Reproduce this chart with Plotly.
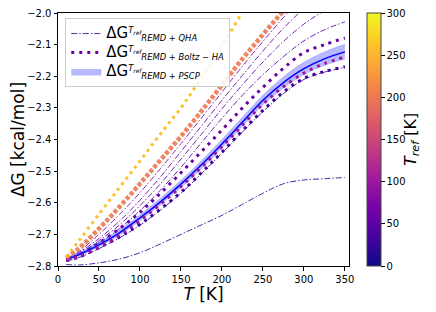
import plotly.graph_objects as go
from plotly.colors import sample_colorscale

# ---------------- data ----------------
T = [10, 25, 50, 75, 100, 125, 150, 175, 200, 225, 250, 275, 300, 325, 350]

# REMD + QHA (dash-dot), keyed by T_ref
qha_tref = [20, 30, 40, 50, 60, 75]
qha_20 = [-2.795, -2.797, -2.790, -2.778, -2.758, -2.730, -2.700, -2.670, -2.640, -2.605, -2.570, -2.540, -2.528, -2.524, -2.520]
qha_30 = [-2.784, -2.774, -2.745, -2.711, -2.671, -2.623, -2.570, -2.508, -2.443, -2.376, -2.312, -2.255, -2.210, -2.187, -2.172]
qha_40 = [-2.781, -2.765, -2.727, -2.682, -2.625, -2.560, -2.488, -2.410, -2.333, -2.260, -2.195, -2.138, -2.088, -2.053, -2.028]
qha_50 = [-2.780, -2.762, -2.720, -2.670, -2.609, -2.540, -2.462, -2.383, -2.303, -2.227, -2.155, -2.090, -2.035, -1.992, -1.950]
qha_60 = [-2.779, -2.758, -2.713, -2.658, -2.592, -2.518, -2.438, -2.357, -2.276, -2.197, -2.120, -2.048, -1.985, -1.925, -1.870]
qha_75 = [-2.778, -2.755, -2.700, -2.637, -2.568, -2.492, -2.413, -2.332, -2.250, -2.168, -2.090, -2.014, -1.940, -1.870, -1.800]
qha_vals = [qha_20, qha_30, qha_40, qha_50, qha_60, qha_75]

# REMD + Boltz-HA (dotted), keyed by T_ref
boltz_tref = [30, 60, 100, 200, 260]
boltz_30 = [-2.783, -2.772, -2.742, -2.708, -2.668, -2.620, -2.567, -2.505, -2.440, -2.372, -2.308, -2.250, -2.207, -2.185, -2.170]
boltz_60 = [-2.781, -2.766, -2.727, -2.682, -2.630, -2.570, -2.505, -2.438, -2.370, -2.300, -2.235, -2.175, -2.125, -2.100, -2.079]
boltz_100 = [-2.782, -2.770, -2.740, -2.703, -2.656, -2.605, -2.549, -2.488, -2.423, -2.355, -2.288, -2.233, -2.190, -2.160, -2.139]
boltz_200 = [-2.774, -2.745, -2.682, -2.613, -2.540, -2.465, -2.390, -2.310, -2.228, -2.145, -2.068, -1.993, -1.920, -1.850, -1.780]
boltz_260 = [-2.772, -2.722, -2.636, -2.552, -2.468, -2.382, -2.300, -2.205, -2.105, -1.996, -1.880, -1.770, -1.660, -1.550, -1.440]
boltz_vals = [boltz_30, boltz_60, boltz_100, boltz_200, boltz_260]

# REMD + PSCP (mean and half-width of band)
pscp_mean = [-2.779, -2.765, -2.733, -2.695, -2.648, -2.597, -2.541, -2.480, -2.414, -2.345, -2.276, -2.220, -2.176, -2.145, -2.123]
pscp_err = [0.006, 0.007, 0.008, 0.009, 0.010, 0.011, 0.012, 0.013, 0.014, 0.015, 0.016, 0.018, 0.020, 0.022, 0.024]

x_ticks = [0, 50, 100, 150, 200, 250, 300, 350]
y_ticks = [-2.8, -2.7, -2.6, -2.5, -2.4, -2.3, -2.2, -2.1, -2.0]
cbar_ticks = [0, 50, 100, 150, 200, 250, 300]
TMAX = 300

# ---------------- figure ----------------
def cmap(t):
    return sample_colorscale("Plasma", [t / TMAX])[0]

FONT = "DejaVu Sans"
DG = '<span style="font-size:15px">ΔG</span>'
lab_qha = DG + "<sup><i>T<sub>ref</sub></i></sup><sub><i>REMD + QHA</i></sub>"
lab_boltz = DG + "<sup><i>T<sub>ref</sub></i></sup><sub><i>REMD + Boltz − HA</i></sub>"
lab_pscp = DG + "<sup><i>T<sub>ref</sub></i></sup><sub><i>REMD + PSCP</i></sub>"

fig = go.Figure()

# QHA lines
for i, (tr, vals) in enumerate(zip(qha_tref, qha_vals)):
    fig.add_trace(go.Scatter(
        x=T, y=vals, mode="lines", line_shape="spline",
        line=dict(color=cmap(tr), width=1, dash="6px,2px,1.5px,2px"),
        opacity=0.85,
        name=lab_qha, showlegend=(i == 0), legendrank=1,
    ))

# Boltz-HA dotted (low T_ref ones below band)
for tr, vals in zip(boltz_tref[:2], boltz_vals[:2]):
    fig.add_trace(go.Scatter(
        x=T, y=vals, mode="lines", line_shape="spline",
        line=dict(color=cmap(tr), width=3, dash="3px,5px"),
        name=lab_boltz, showlegend=(tr == 60), legendrank=2,
    ))

# PSCP band
lower = [m - e for m, e in zip(pscp_mean, pscp_err)]
upper = [m + e for m, e in zip(pscp_mean, pscp_err)]
fig.add_trace(go.Scatter(x=T, y=lower, mode="lines", line_shape="spline",
                         line=dict(width=0, color="rgba(0,0,255,0)"), showlegend=False))
fig.add_trace(go.Scatter(x=T, y=upper, mode="lines", line_shape="spline", fill="tonexty",
                         fillcolor="rgba(70,70,255,0.38)",
                         line=dict(width=0.5, color="rgba(70,70,255,0.5)"),
                         name=lab_pscp, showlegend=True, legendrank=3))
fig.add_trace(go.Scatter(x=T, y=pscp_mean, mode="lines", line_shape="spline",
                         line=dict(color="blue", width=1.5), showlegend=False))

# Boltz-HA dotted (higher T_ref)
widths = {100: 3, 200: 4.5, 260: 3}
dashes = {100: "3px,5px", 200: "4px,2px", 260: "3px,4px"}
for tr, vals in zip(boltz_tref[2:], boltz_vals[2:]):
    fig.add_trace(go.Scatter(
        x=T, y=vals, mode="lines", line_shape="spline",
        line=dict(color=cmap(tr), width=widths[tr], dash=dashes[tr]),
        opacity=0.9 if tr == 200 else 1, showlegend=False,
    ))

# colorbar carrier
fig.add_trace(go.Scatter(
    x=[None], y=[None], mode="markers", showlegend=False, hoverinfo="skip",
    marker=dict(color=[0, TMAX], cmin=0, cmax=TMAX, colorscale="Plasma", showscale=True,
                colorbar=dict(x=1.062, xanchor="left", xpad=0, ypad=0, y=0.5, yanchor="middle",
                              len=1, lenmode="fraction", thickness=14,
                              outlinecolor="#444", outlinewidth=1,
                              tickvals=cbar_ticks, ticks="outside", ticklen=3.5, tickwidth=1,
                              tickcolor="black", ticklabeloverflow="allow",
                              tickfont=dict(family=FONT, size=10, color="black"))),
))

axis_common = dict(showline=True, linecolor="black", linewidth=1, mirror=True,
                   ticks="outside", ticklen=3.5, tickwidth=1, tickcolor="black",
                   showgrid=False, zeroline=False, automargin=False,
                   ticklabeloverflow="allow",
                   tickfont=dict(family=FONT, size=10, color="black"))

# page body adds an 8px offset, margins compensate for it
fig.update_layout(
    width=436, height=312,
    margin=dict(l=50, r=95, t=5, b=54, autoexpand=False),
    paper_bgcolor="white", plot_bgcolor="white",
    font=dict(family=FONT, color="black"),
    xaxis=dict(range=[0, 355], tickvals=x_ticks, **axis_common,
               title=dict(text="<i>T</i> [K]", font=dict(family=FONT, size=17), standoff=4)),
    yaxis=dict(range=[-2.8, -2.0], tickvals=y_ticks, tickformat=".1f", **axis_common,
               title=dict(text="ΔG [kcal/mol]", font=dict(family=FONT, size=17), standoff=6)),
    legend=dict(x=0.025, y=0.98, xanchor="left", yanchor="top", traceorder="normal",
                bgcolor="rgba(255,255,255,0.85)", bordercolor="#cccccc", borderwidth=1,
                font=dict(family=FONT, size=12, color="black"), tracegroupgap=3,
                itemwidth=30),
    annotations=[dict(text="<i>T<sub>ref</sub></i> [K]", xref="paper", yref="paper",
                      x=1.215, y=0.5, xanchor="center", yanchor="middle", textangle=-90,
                      showarrow=False, font=dict(family=FONT, size=16, color="black"))],
)

fig.write_html("out.html")
